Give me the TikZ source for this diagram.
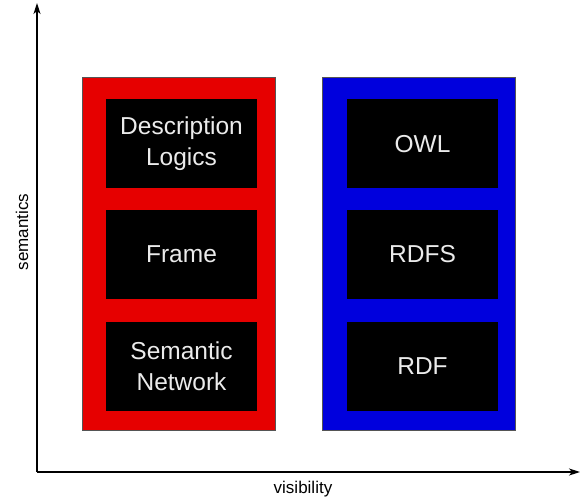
\documentclass[tikz,border=0pt]{standalone}
\usepackage{fontspec}
\setmainfont{Liberation Sans}
\usetikzlibrary{arrows.meta}
\definecolor{myred}{HTML}{E60000}
\definecolor{myblue}{HTML}{0000DD}
\definecolor{edgegray}{HTML}{555555}
\tikzset{
  panel/.style={draw=edgegray, line width=0.6pt, minimum width=193pt, minimum height=353pt, inner sep=0pt, anchor=north west},
  inbox/.style={fill=black, draw=none, minimum width=151pt, minimum height=89pt, inner sep=0pt, text=white!92!black, align=center,
    font=\fontsize{24.5}{31}\selectfont},
  axis/.style={line width=1.3pt, -{Stealth[length=11pt,width=7pt,inset=3pt]}},
  axlabel/.style={font=\fontsize{17}{20}\selectfont}
}
\begin{document}
\begin{tikzpicture}[x=1pt,y=-1pt]
\useasboundingbox (0,0) rectangle (581,497);
\node[panel, fill=myred] (redpanel) at (82,77) {};
\node[panel, fill=myblue] (bluepanel) at (322,77) {};
\node[inbox] (dl) at (181.5,144) {Description\\Logics};
\node[inbox] (frame) at (181.5,254.5) {Frame};
\node[inbox] (sn) at (181.5,366.5) {Semantic\\Network};
\node[inbox] (owl) at (422.5,144) {OWL};
\node[inbox] (rdfs) at (422.5,254.5) {RDFS};
\node[inbox] (rdf) at (422.5,366.5) {RDF};
\coordinate (origin) at (37,472);
\coordinate (ytip) at (37,3);
\coordinate (xtip) at (580,472);
\draw[axis] (origin) -- (ytip);
\draw[axis] (origin) -- (xtip);
\node[axlabel, rotate=90] (sem) at (22,232) {semantics};
\node[axlabel] (vis) at (303,489) {visibility};
\end{tikzpicture}
\end{document}
